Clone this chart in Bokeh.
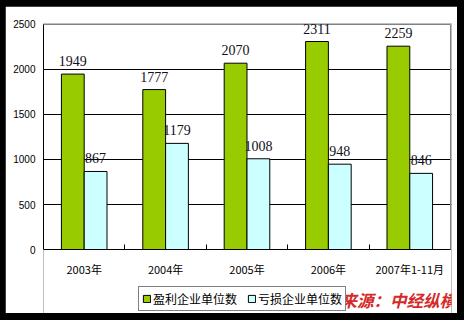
from bokeh.plotting import figure
from bokeh.models import ColumnDataSource, FixedTicker, Legend, LegendItem, Label
from bokeh.layouts import column
from bokeh.transform import dodge
from bokeh.core.properties import value
from bokeh.embed import file_html
from bokeh.resources import INLINE

categories = ["2003年", "2004年", "2005年", "2006年", "2007年1-11月"]
profit = [1949, 1777, 2070, 2311, 2259]
loss = [867, 1179, 1008, 948, 846]
series_names = ["盈利企业单位数", "亏损企业单位数"]
y_ticks = [0, 500, 1000, 1500, 2000, 2500]
source_note = "来源：中经纵横"

n = len(categories)
xpos = [i + 0.5 for i in range(n)]
src = ColumnDataSource(dict(
    x=xpos, cat=categories, profit=profit, loss=loss,
    pl=[str(v) for v in profit], ll=[str(v) for v in loss],
))

# frame covers the plot area plus the space below it (for axis labels and legend)
p = figure(frame_width=408, frame_height=290, x_range=(0, n + 0.0125),
           y_range=(-711, y_ticks[-1] + 11), output_backend="svg",
           toolbar_location=None, min_border_left=38, min_border_right=6,
           min_border_top=17, min_border_bottom=0)
p.background_fill_color = "white"
p.border_fill_color = "white"
p.outline_line_color = None

# gray plot-area border (left/bottom get covered by the black axes)
p.quad(left=[0], right=[n], bottom=[y_ticks[0]], top=[y_ticks[-1]],
       fill_color=None, line_color="#808080", line_width=1)

bw = 0.28
g = p.vbar(x=dodge('x', -bw / 2), top='profit', width=bw, fill_color="#99cc00",
           line_color="black", line_width=1, source=src)
c = p.vbar(x=dodge('x', bw / 2), top='loss', width=bw, fill_color="#ccffff",
           line_color="black", line_width=1, source=src)

for col, lab, dx in (("profit", "pl", -bw / 2), ("loss", "ll", bw / 2)):
    p.text(x=dodge('x', dx), y=col, text=lab, text_align="center",
           text_baseline="bottom", y_offset=-8, text_font=value("Liberation Serif"),
           text_font_size="14px", text_color="#101020", source=src)

xa = p.xaxis[0]
xa.fixed_location = 0
xa.bounds = (0, n)
xa.ticker = FixedTicker(ticks=xpos, minor_ticks=[1, 2, 3, 4])
xa.major_label_overrides = {xv: cv for xv, cv in zip(xpos, categories)}
xa.major_tick_line_color = None
xa.minor_tick_in = 5
xa.minor_tick_out = 0
xa.minor_tick_line_color = "black"
xa.major_label_standoff = 5
xa.axis_line_color = "black"
xa.major_label_text_font = "Noto Sans CJK SC"
xa.major_label_text_font_size = "11px"
xa.major_label_text_color = "black"

ya = p.yaxis[0]
ya.bounds = (0, y_ticks[-1])
ya.ticker = FixedTicker(ticks=y_ticks)
ya.major_tick_in = 0
ya.major_tick_out = 0
ya.minor_tick_line_color = None
ya.major_label_standoff = 8
ya.axis_line_color = "black"
ya.major_label_text_font = "Liberation Sans"
ya.major_label_text_font_size = "10px"
ya.major_label_text_color = "black"

p.xgrid.visible = False
p.ygrid.ticker = FixedTicker(ticks=y_ticks[1:-1])
p.ygrid.grid_line_color = "black"
p.ygrid.grid_line_alpha = 1

legend = Legend(items=[LegendItem(label=series_names[0], renderers=[g]),
                       LegendItem(label=series_names[1], renderers=[c])],
                orientation="horizontal", location=(95, 2))
legend.glyph_width = 9
legend.glyph_height = 9
legend.label_height = 13
legend.padding = 3
legend.spacing = 10
legend.label_standoff = 2
legend.margin = 0
legend.border_line_color = "black"
legend.border_line_width = 1
legend.label_text_font = "Noto Sans CJK SC"
legend.label_text_font_size = "12px"
legend.label_text_color = "black"
legend.background_fill_alpha = 1
p.add_layout(legend, "center")

note = Label(x=297, y=2, x_units="screen", y_units="screen", text=source_note,
             text_font="Noto Sans CJK SC", text_font_style="bold italic",
             text_font_size="16.5px", text_color="#d42a2a", text_baseline="bottom")
p.add_layout(note)

layout = column(p, styles={"background-color": "black", "padding": "6px 7px 7px 5px"})

open("out.html", "w").write(file_html(layout, INLINE))
